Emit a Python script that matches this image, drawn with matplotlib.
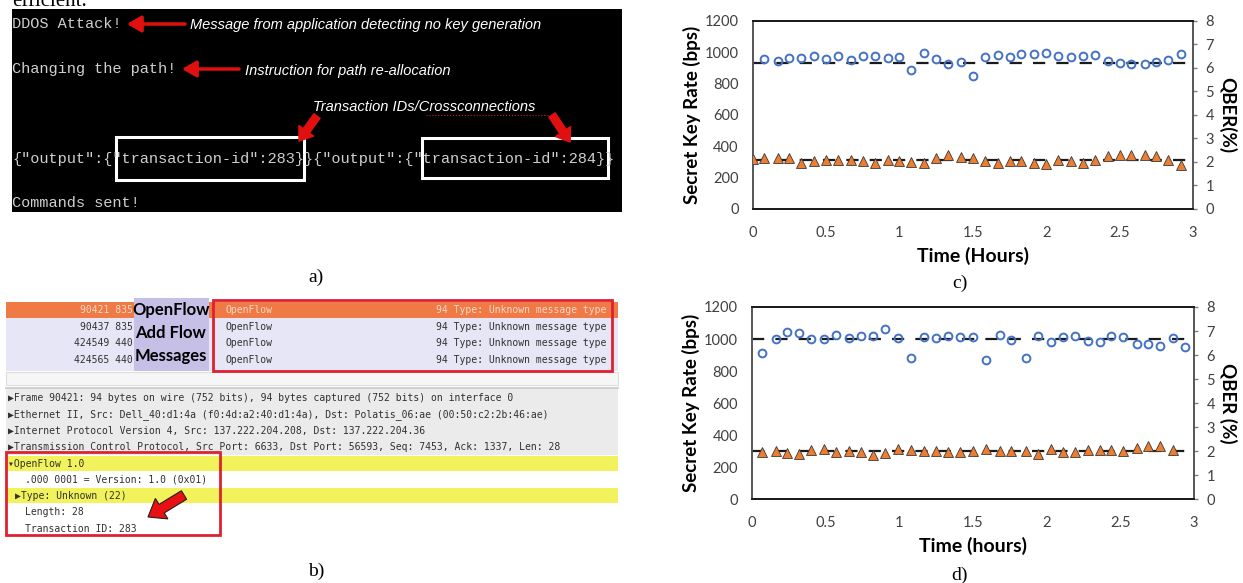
import matplotlib
matplotlib.use('Agg')
import matplotlib.pyplot as plt
from matplotlib.patches import Rectangle, FancyArrow

plt.rcParams['font.family'] = ['Lato', 'DejaVu Sans']

# ---------------- data: c) ----------------
c_time_skr = [0.08, 0.17, 0.25, 0.33, 0.42, 0.50, 0.58, 0.67, 0.75, 0.83, 0.92, 1.00,
              1.08, 1.17, 1.25, 1.33, 1.42, 1.50, 1.58, 1.67, 1.75, 1.83, 1.92, 2.00,
              2.08, 2.17, 2.25, 2.33, 2.42, 2.50, 2.58, 2.67, 2.75, 2.83, 2.92]
c_skr = [955, 943, 964, 962, 979, 955, 979, 953, 974, 974, 964, 970,
         885, 994, 955, 926, 940, 849, 970, 983, 972, 987, 991, 996,
         974, 968, 974, 983, 943, 930, 926, 926, 936, 951, 989]
c_time_qber = [0.00, 0.08, 0.17, 0.25, 0.33, 0.42, 0.50, 0.58, 0.67, 0.75, 0.83, 0.92,
               1.00, 1.08, 1.17, 1.25, 1.33, 1.42, 1.50, 1.58, 1.67, 1.75, 1.83, 1.92,
               2.00, 2.08, 2.17, 2.25, 2.33, 2.42, 2.50, 2.58, 2.67, 2.75, 2.83, 2.92]
c_qber = [2.11, 2.16, 2.16, 2.16, 1.94, 2.04, 2.10, 2.07, 2.07, 2.03, 1.97, 2.07,
          2.04, 2.01, 1.94, 2.17, 2.30, 2.23, 2.16, 2.04, 1.96, 2.04, 2.03, 1.94,
          1.91, 2.07, 2.03, 1.96, 2.07, 2.24, 2.31, 2.28, 2.30, 2.24, 2.07, 1.89]
c_skr_avg = 934
c_qber_avg = 2.07

# ---------------- data: d) ----------------
d_time_skr = [0.07, 0.16, 0.24, 0.32, 0.40, 0.49, 0.57, 0.66, 0.74, 0.82, 0.90, 0.99,
              1.08, 1.17, 1.25, 1.33, 1.41, 1.50, 1.59, 1.68, 1.76, 1.86, 1.94, 2.03,
              2.11, 2.19, 2.28, 2.36, 2.44, 2.52, 2.61, 2.69, 2.77, 2.86, 2.94]
d_skr = [913, 1000, 1042, 1037, 1002, 1000, 1027, 1006, 1017, 1021, 1062, 1006,
         881, 1015, 1004, 1017, 1010, 1010, 869, 1023, 994, 881, 1021, 983,
         1015, 1017, 990, 983, 1017, 1010, 969, 969, 958, 1006, 948]
d_time_qber = [0.07, 0.16, 0.24, 0.32, 0.40, 0.49, 0.57, 0.66, 0.74, 0.82, 0.90, 0.99,
               1.08, 1.17, 1.25, 1.33, 1.41, 1.50, 1.59, 1.68, 1.76, 1.86, 1.94, 2.03,
               2.11, 2.19, 2.28, 2.36, 2.44, 2.52, 2.61, 2.69, 2.77, 2.86]
d_qber = [1.97, 2.00, 1.91, 1.89, 2.07, 2.08, 1.96, 2.00, 1.97, 1.86, 1.91, 2.11,
          2.05, 2.00, 2.01, 1.97, 1.97, 2.01, 2.08, 2.00, 2.00, 2.00, 1.89, 2.09,
          1.96, 1.96, 2.05, 2.04, 2.04, 2.00, 2.15, 2.23, 2.21, 2.04]
d_skr_avg = 1000
d_qber_avg = 2.0

skr_ticks = [0, 200, 400, 600, 800, 1000, 1200]
qber_ticks = [0, 1, 2, 3, 4, 5, 6, 7, 8]
time_ticks = [0, 0.5, 1, 1.5, 2, 2.5, 3]
time_labels = ['0', '0.5', '1', '1.5', '2', '2.5', '3']

W, H = 1243, 583
fig = plt.figure(figsize=(W / 100, H / 100), dpi=100)

# background axes in pixel coordinates for the two screenshot panels
bg = fig.add_axes([0, 0, 1, 1])
bg.set_xlim(0, W)
bg.set_ylim(H, 0)
bg.axis('off')

mono = ['Liberation Mono', 'DejaVu Sans Mono']
ws = ['DejaVu Sans Mono', 'DejaVu Sans']
serif = ['Liberation Serif', 'DejaVu Serif']
arial = ['Liberation Sans', 'DejaVu Sans']

# ---- a) terminal screenshot ----
# last line of the page text above, cut by the crop
bg.text(12, 6, 'efficient.', family=serif, fontsize=15, va='baseline', color='black')
bg.add_patch(Rectangle((12, 9), 610, 203, facecolor='black', edgecolor='none'))
term = '#cfcfcf'
bg.text(12, 24, 'DDOS Attack!', family=mono, fontsize=11, color=term, va='center')
bg.text(12, 69, 'Changing the path!', family=mono, fontsize=11, color=term, va='center')
bg.text(12, 159, '{"output":{"transaction-id":283}}{"output":{"transaction-id":284}}',
        family=mono, fontsize=11, color=term, va='center')
bg.text(12, 203, 'Commands sent!', family=mono, fontsize=11, color=term, va='center')

arr = dict(arrowstyle='-|>,head_length=0.6,head_width=0.35', color='#e01010', lw=2.5,
           mutation_scale=14, shrinkA=0, shrinkB=0)
bg.annotate('', xy=(127, 24), xytext=(185, 24), arrowprops=arr)
bg.annotate('', xy=(182, 69), xytext=(239, 69), arrowprops=arr)
bg.text(190, 25, 'Message from application detecting no key generation', family=arial,
        style='italic', fontsize=10.5, color='white', va='center')
bg.text(245, 71, 'Instruction for path re-allocation', family=arial,
        style='italic', fontsize=10.5, color='white', va='center')
bg.text(313, 107, 'Transaction IDs/Crossconnections', family=arial,
        style='italic', fontsize=10.5, color='white', va='center')
bg.plot([426, 549], [115, 115], color='#d02020', lw=0.8, ls=':')

fat = dict(arrowstyle='simple,head_length=0.9,head_width=1.3,tail_width=0.55',
           color='#e01010', mutation_scale=10, shrinkA=0, shrinkB=0)
bg.annotate('', xy=(299, 141), xytext=(317, 116), arrowprops=fat)
bg.annotate('', xy=(570, 142), xytext=(552, 115), arrowprops=fat)
bg.add_patch(Rectangle((116, 137), 188, 43, facecolor='none', edgecolor='white', lw=2.2))
bg.add_patch(Rectangle((422, 138), 186, 40, facecolor='none', edgecolor='white', lw=2.2))
bg.text(316, 277, 'a)', family=serif, fontsize=14, ha='center', va='center')

# ---- b) wireshark screenshot ----
row_y = [310, 327, 343, 360]
bg.add_patch(Rectangle((6, 318), 612, 53, facecolor='#e6e6f7', edgecolor='none'))
bg.add_patch(Rectangle((6, 302), 612, 16, facecolor='#ef7a45', edgecolor='none'))
bg.add_patch(Rectangle((134, 298), 75, 73, facecolor='#c6c0e6', edgecolor='none'))
bg.add_patch(Rectangle((6, 372), 612, 13, facecolor='#f6f6f6', edgecolor='#dddddd', lw=0.8))
bg.add_patch(Rectangle((6, 388), 612, 67, facecolor='#ebebeb', edgecolor='none'))
bg.plot([6, 618], [388, 388], color='#c8c8c8', lw=1.2)
nums = ['90421 835', '90437 835', '424549 440', '424565 440']
for i, y in enumerate(row_y):
    col = '#f7d9cb' if i == 0 else '#303030'
    bg.text(133, y, nums[i], family=ws, fontsize=7, color=col, ha='right', va='center')
    bg.text(226, y, 'OpenFlow', family=ws, fontsize=7, color=col, va='center')
    bg.text(606, y, '94 Type: Unknown message type', family=ws, fontsize=7, color=col,
            ha='right', va='center')
for txt, y in zip(['OpenFlow', 'Add Flow', 'Messages'], [310, 333, 356]):
    bg.text(171, y, txt, fontsize=12, fontweight='bold', color='black',
            ha='center', va='center')
bg.add_patch(Rectangle((213, 300), 399, 71, facecolor='none', edgecolor='#e02030', lw=2))

bg.add_patch(Rectangle((6, 456), 612, 15, facecolor='#f2f25c', edgecolor='none'))
bg.add_patch(Rectangle((6, 488), 612, 15, facecolor='#f2f25c', edgecolor='none'))
detail = [
    (8, 398, '\u25b6Frame 90421: 94 bytes on wire (752 bits), 94 bytes captured (752 bits) on interface 0'),
    (8, 415, '\u25b6Ethernet II, Src: Dell_40:d1:4a (f0:4d:a2:40:d1:4a), Dst: Polatis_06:ae (00:50:c2:2b:46:ae)'),
    (8, 431, '\u25b6Internet Protocol Version 4, Src: 137.222.204.208, Dst: 137.222.204.36'),
    (8, 447, '\u25b6Transmission Control Protocol, Src Port: 6633, Dst Port: 56593, Seq: 7453, Ack: 1337, Len: 28'),
    (8, 464, '\u25beOpenFlow 1.0'),
    (25, 480, '.000 0001 = Version: 1.0 (0x01)'),
    (15, 496, '\u25b6Type: Unknown (22)'),
    (25, 512, 'Length: 28'),
    (25, 529, 'Transaction ID: 283'),
]
for x, y, txt in detail:
    bg.text(x, y, txt, family=ws, fontsize=7.0, color='#303030', va='center')
bg.add_patch(Rectangle((6, 452), 214, 83, facecolor='none', edgecolor='#e02030', lw=2))
bg.add_patch(FancyArrow(184, 495, -36, 22, width=10, head_width=24, head_length=16,
                        length_includes_head=True, facecolor='#e81010',
                        edgecolor='#202020', lw=0.8))
bg.text(316, 571, 'b)', family=serif, fontsize=14, ha='center', va='center')


# ---- c) and d) charts ----
def draw_chart(rect, t_skr, skr, skr_avg, t_q, q, q_avg, xlabel, qlabel):
    ax = fig.add_axes(rect)
    ax2 = ax.twinx()
    ax.axhline(skr_avg, color='#1a1a1a', lw=1.6, dashes=(5.5, 5), zorder=1)
    ax.plot(t_skr, skr, 'o', ms=5.6, mfc='none', mec='#4472c4', mew=1.4, zorder=3)
    ax2.axhline(q_avg, color='#1a1a1a', lw=1.6, dashes=(5.5, 5), zorder=1)
    ax2.plot(t_q, q, '^', ms=7.2, mfc='#ed7d31', mec='#3a3a3a', mew=0.6, zorder=3)
    ax.set_xlim(0, 3)
    ax.set_ylim(0, 1200)
    ax2.set_ylim(0, 8)
    ax.set_xticks(time_ticks)
    ax.set_xticklabels(time_labels)
    ax.set_yticks(skr_ticks)
    ax2.set_yticks(qber_ticks)
    ax.tick_params(axis='y', length=0, pad=10, labelsize=10.5, labelcolor='#404040')
    ax.tick_params(axis='x', length=0, pad=12, labelsize=10.5, labelcolor='#404040')
    ax2.tick_params(axis='y', length=3, width=1, color='#7f7f7f', pad=6,
                    labelsize=10.5, labelcolor='#404040')
    for a in (ax, ax2):
        a.spines['top'].set_color('#1a1a1a')
        a.spines['bottom'].set_color('#1a1a1a')
        a.spines['left'].set_color('#595959')
        a.spines['right'].set_color('#595959')
        for s in a.spines.values():
            s.set_linewidth(1.3)
    ax.set_xlabel(xlabel, fontsize=14, fontweight='bold', labelpad=5)
    ax.set_ylabel('Secret Key Rate (bps)', fontsize=13.5, fontweight='bold', labelpad=3)
    ax2.set_ylabel(qlabel, fontsize=13.5, fontweight='bold', rotation=-90,
                   va='bottom', labelpad=3)
    return ax


draw_chart([752.7 / W, 1 - 209 / H, 440.3 / W, 188 / H],
           c_time_skr, c_skr, c_skr_avg, c_time_qber, c_qber, c_qber_avg,
           'Time (Hours)', 'QBER(%)')
draw_chart([752 / W, 1 - 499.3 / H, 442 / W, 192.3 / H],
           d_time_skr, d_skr, d_skr_avg, d_time_qber, d_qber, d_qber_avg,
           'Time (hours)', 'QBER (%)')
bg.text(960, 283, 'c)', family=serif, fontsize=14, ha='center', va='center')
bg.text(960, 575, 'd)', family=serif, fontsize=14, ha='center', va='center')

fig.savefig('out.png', dpi=100)
